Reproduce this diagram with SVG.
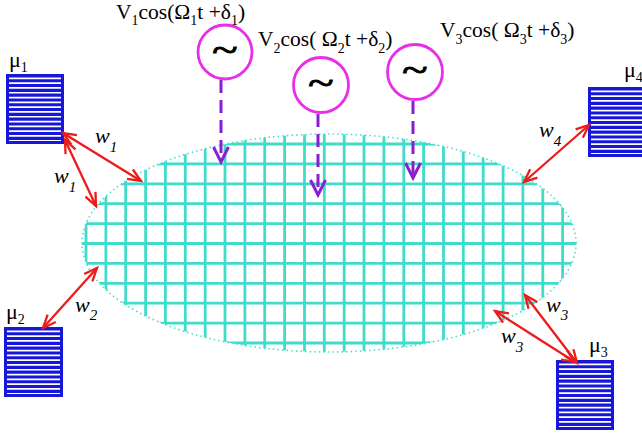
<svg xmlns="http://www.w3.org/2000/svg" width="642" height="436" viewBox="0 0 642 436">
<style>
text{font-family:"Liberation Serif","DejaVu Serif",serif;fill:#000}
.lbl{font-size:21.5px}
.sub{font-size:14px}
.w{font-size:22px;font-style:italic}
.ws{font-size:15px;font-style:italic}
.mu{font-size:22px}
.box{fill:#1717d9;stroke:#1717d9;stroke-width:2}
.stripe{stroke:#fff;stroke-dasharray:1.7 3.1;fill:none}
.src{fill:#fff;stroke:#e82ee8;stroke-width:2.8}
.tilde{font-size:36px;text-anchor:middle;stroke:#000;stroke-width:1}
.grid{stroke:#40dccb;stroke-width:2.8;fill:none}
.outline{fill:none;stroke:#40dccb;stroke-width:1.6;stroke-dasharray:1.4 3.2}
.red{stroke:#ee1b1b;stroke-width:2.3;fill:none;marker-start:url(#rh);marker-end:url(#rh)}
.drive{stroke:#8c1ed2;stroke-width:3;stroke-dasharray:13 7;fill:none;marker-end:url(#ph)}
</style>
<defs>
<marker id="rh" markerUnits="userSpaceOnUse" orient="auto-start-reverse" markerWidth="20" markerHeight="20" refX="0" refY="0" viewBox="-16 -10 20 20" overflow="visible">
<path d="M-13,-5.5 L0,0 L-13,5.5" fill="none" stroke="#ee1b1b" stroke-width="2.3"/>
</marker>
<marker id="ph" markerUnits="userSpaceOnUse" orient="auto" markerWidth="24" markerHeight="24" refX="0" refY="0" viewBox="-18 -12 24 24" overflow="visible">
<path d="M-15,-7.5 L0,0 L-15,7.5" fill="none" stroke="#8c1ed2" stroke-width="3"/>
</marker>
<clipPath id="ec"><ellipse cx="329" cy="243" rx="247" ry="109"/></clipPath>
</defs>

<g id="plate">
<g clip-path="url(#ec)">
<path class="grid" d="M86,120V370M105.9,120V370M125.7,120V370M145.6,120V370M165.4,120V370M185.3,120V370M205.2,120V370M225,120V370M244.9,120V370M264.7,120V370M284.6,120V370M304.5,120V370M324.3,120V370M344.2,120V370M364,120V370M383.9,120V370M403.8,120V370M423.6,120V370M443.5,120V370M463.3,120V370M483.2,120V370M503.1,120V370M522.9,120V370M542.8,120V370M562.6,120V370M70,144H590M70,163.9H590M70,183.8H590M70,203.7H590M70,223.6H590M70,243.5H590M70,263.4H590M70,283.3H590M70,303.2H590M70,323.1H590M70,343H590"/>
</g>
<ellipse class="outline" cx="329" cy="243" rx="247" ry="109"/>
</g>

<g id="mu1">
<rect class="box" x="7" y="75" width="56" height="68"/>
<line class="stripe" x1="35" y1="77.5" x2="35" y2="141" stroke-width="52"/>
<text class="mu" x="9" y="67">μ<tspan class="sub" dy="5">1</tspan></text>
</g>
<g id="mu2">
<rect class="box" x="5" y="328" width="57" height="68"/>
<line class="stripe" x1="33.5" y1="330.5" x2="33.5" y2="394" stroke-width="53"/>
<text class="mu" x="6" y="319">μ<tspan class="sub" dy="5">2</tspan></text>
</g>
<g id="mu3">
<rect class="box" x="557" y="361" width="56" height="68"/>
<line class="stripe" x1="585" y1="363.5" x2="585" y2="427" stroke-width="52"/>
<text class="mu" x="589" y="352">μ<tspan class="sub" dy="5">3</tspan></text>
</g>
<g id="mu4">
<rect class="box" x="589" y="88" width="58" height="68"/>
<line class="stripe" x1="618" y1="90.5" x2="618" y2="154" stroke-width="54"/>
<text class="mu" x="624" y="77">μ<tspan class="sub" dy="5">4</tspan></text>
</g>

<g id="src1">
<circle class="src" cx="225" cy="52" r="27"/>
<text class="tilde" transform="translate(225,61.5) scale(1.3,1)">~</text>
<text class="lbl" x="116" y="19">V<tspan class="sub" dy="6">1</tspan><tspan dy="-6">cos(Ω</tspan><tspan class="sub" dy="6">1</tspan><tspan dy="-6">t +δ</tspan><tspan class="sub" dy="6">1</tspan><tspan dy="-6">)</tspan></text>
</g>
<g id="src2">
<circle class="src" cx="321" cy="85" r="27.5"/>
<text class="tilde" transform="translate(321,94.5) scale(1.3,1)">~</text>
<text class="lbl" x="258" y="46">V<tspan class="sub" dy="7">2</tspan><tspan dy="-7">cos( Ω</tspan><tspan class="sub" dy="7">2</tspan><tspan dy="-7">t +δ</tspan><tspan class="sub" dy="7">2</tspan><tspan dy="-7">)</tspan></text>
</g>
<g id="src3">
<circle class="src" cx="415" cy="72" r="27.5"/>
<text class="tilde" transform="translate(415,81.5) scale(1.3,1)">~</text>
<text class="lbl" x="440" y="37">V<tspan class="sub" dy="7">3</tspan><tspan dy="-7">cos( Ω</tspan><tspan class="sub" dy="7">3</tspan><tspan dy="-7">t +δ</tspan><tspan class="sub" dy="7">3</tspan><tspan dy="-7">)</tspan></text>
</g>

<g id="connectors">
<line class="drive" x1="221" y1="80" x2="221" y2="162"/>
<line class="drive" x1="318" y1="114" x2="318" y2="195"/>
<line class="drive" x1="413" y1="101" x2="413" y2="178"/>
<line class="red" x1="63" y1="133" x2="141" y2="181"/>
<line class="red" x1="65" y1="140" x2="96" y2="206"/>
<line class="red" x1="43" y1="328" x2="97" y2="268"/>
<line class="red" x1="589" y1="125" x2="524" y2="182"/>
<line class="red" x1="577" y1="363" x2="525" y2="295"/>
<line class="red" x1="575" y1="362" x2="495" y2="311"/>
<text class="w" x="95" y="143">w<tspan class="ws" dy="9">1</tspan></text>
<text class="w" x="54" y="183">w<tspan class="ws" dy="9">1</tspan></text>
<text class="w" x="75" y="312">w<tspan class="ws" dy="8">2</tspan></text>
<text class="w" x="539" y="137">w<tspan class="ws" dy="9">4</tspan></text>
<text class="w" x="546" y="312">w<tspan class="ws" dy="8">3</tspan></text>
<text class="w" x="501" y="343">w<tspan class="ws" dy="9">3</tspan></text>
</g>
</svg>
